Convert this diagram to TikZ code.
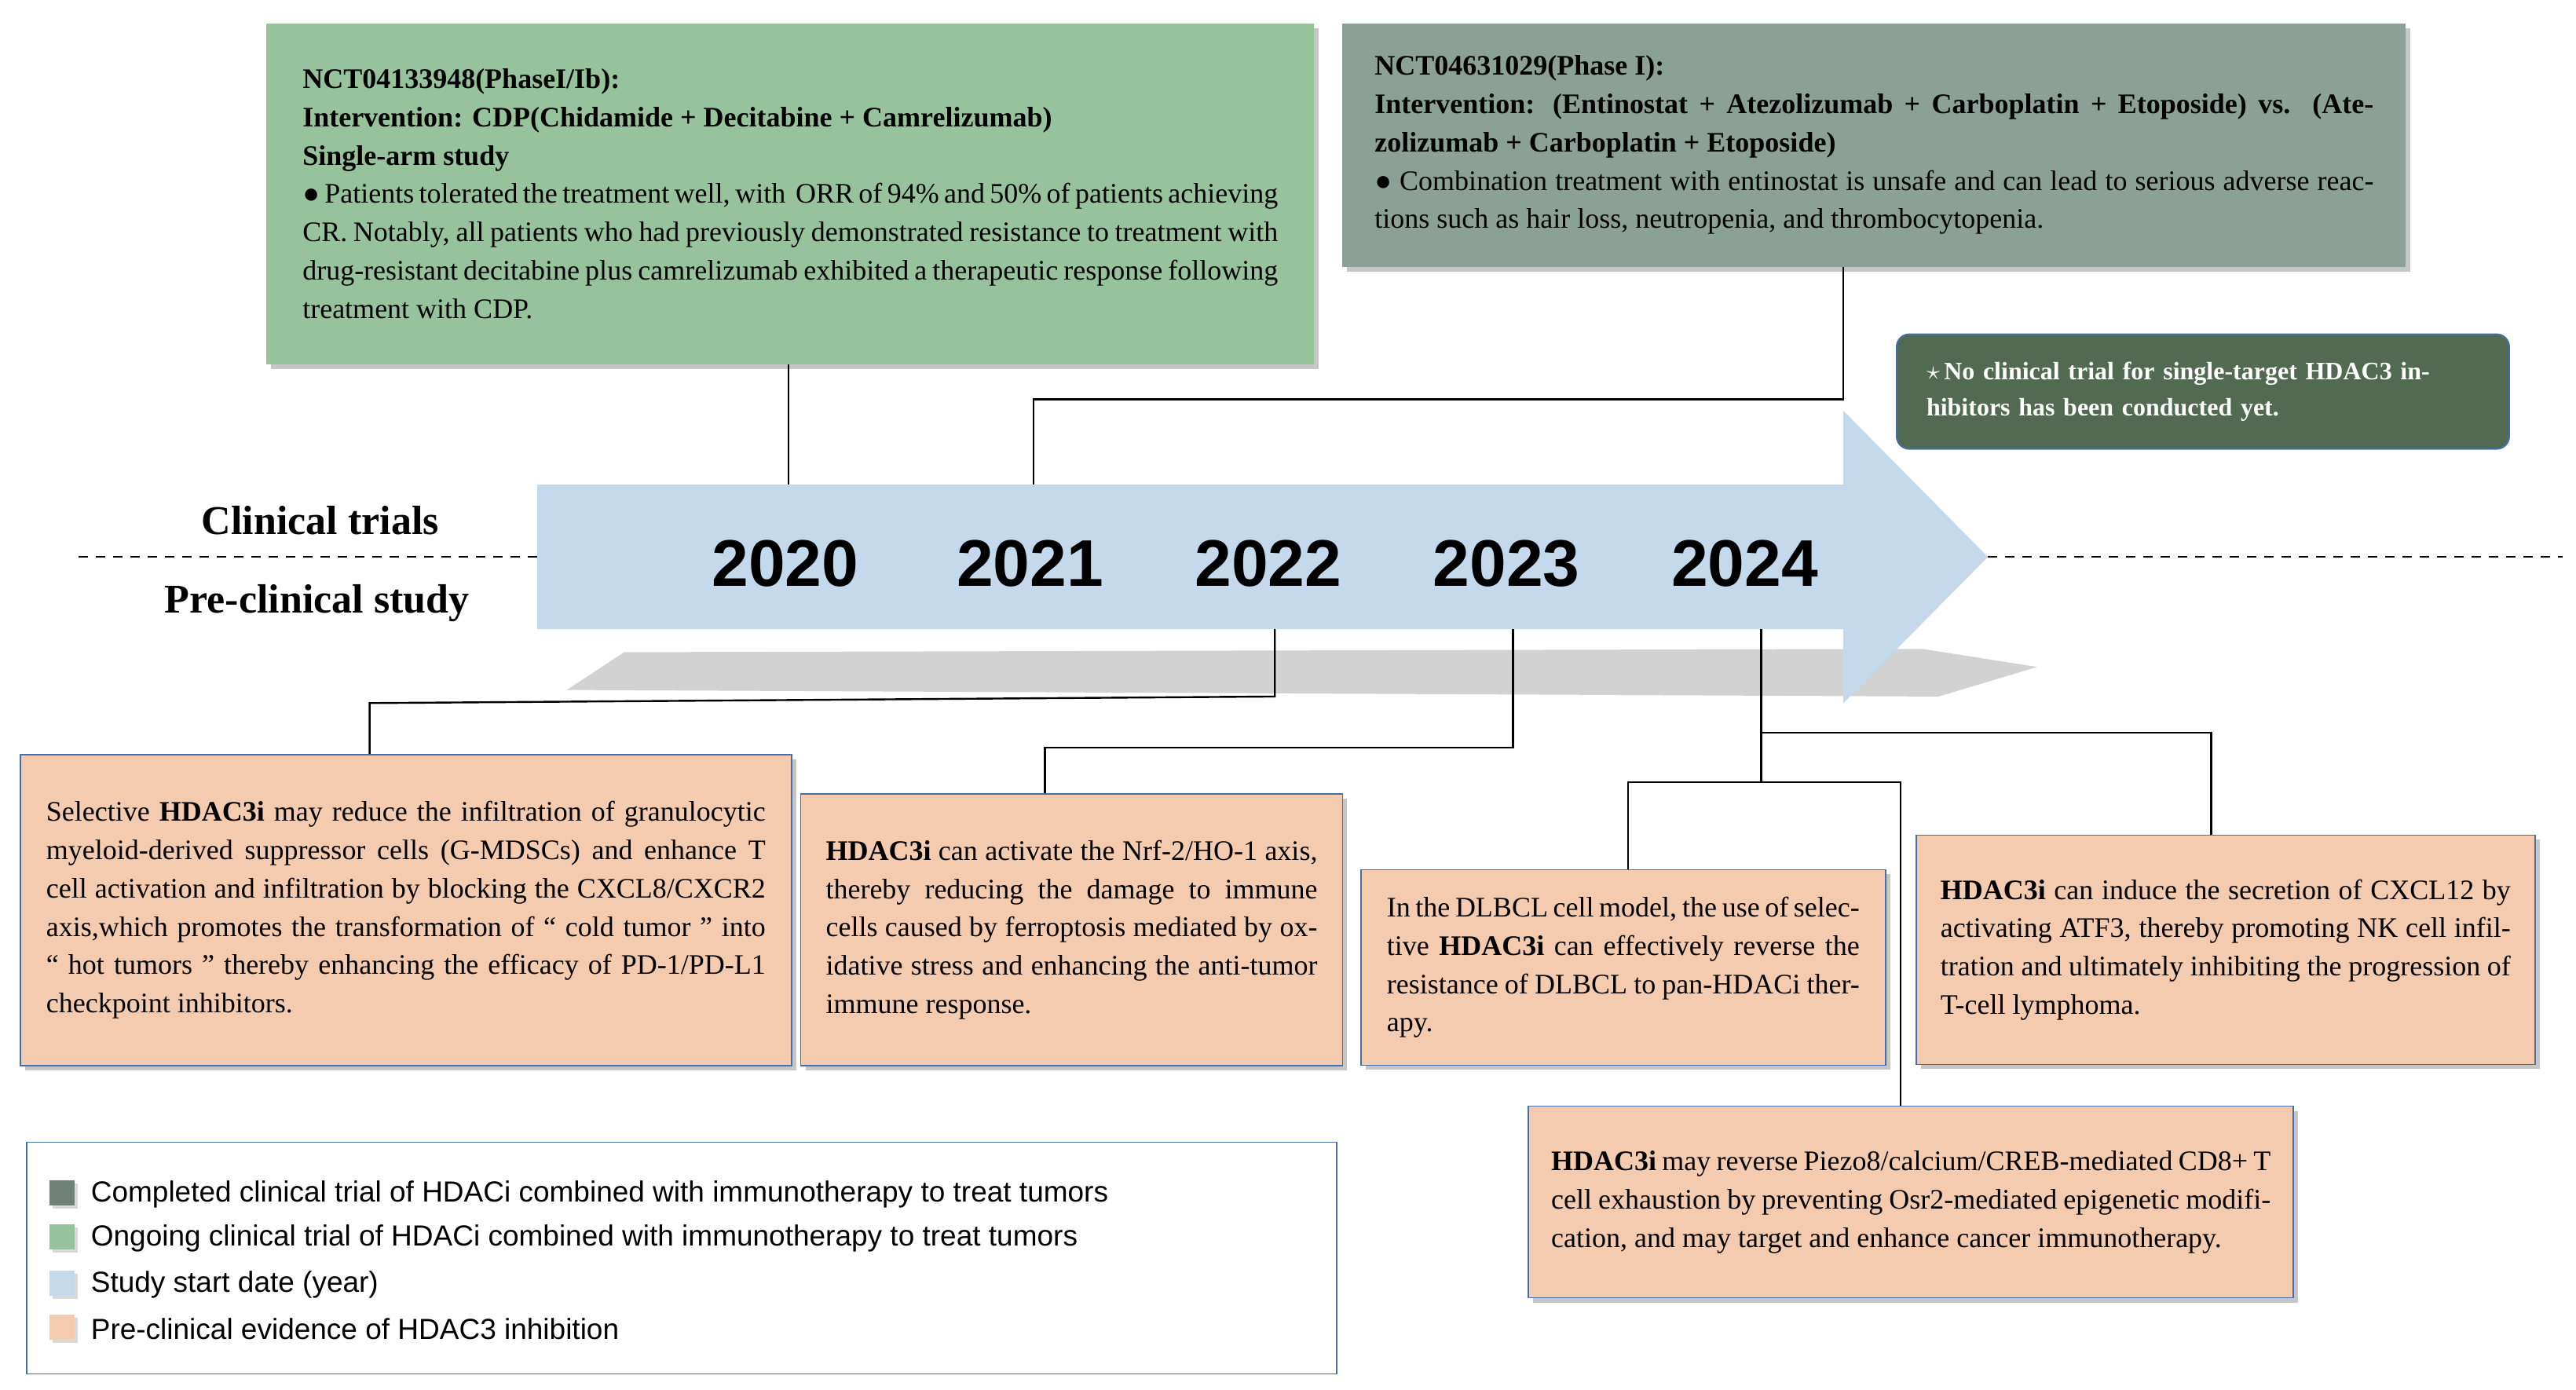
\documentclass[tikz,border=0pt]{standalone}
\usepackage{fontspec}
\setmainfont{Liberation Serif}
\newfontfamily\sansf{Liberation Sans}
\usetikzlibrary{shadows}
\definecolor{grn}{RGB}{151,195,156}
\definecolor{gry}{RGB}{139,160,150}
\definecolor{dkg}{RGB}{83,106,82}
\definecolor{arw}{RGB}{197,217,237}
\definecolor{pch}{RGB}{245,203,176}
\definecolor{bdr}{RGB}{70,110,170}
\definecolor{lgd}{RGB}{110,128,120}
\begin{document}
\begin{tikzpicture}[x=1.046pt,y=-1.046pt,
  txt/.style={font=\fontsize{18}{24.4}\selectfont,align=justify,inner ysep=0pt},
  box/.style={txt,anchor=north west,drop shadow={shadow xshift=3pt,shadow yshift=-3pt,opacity=.45}},
  pre/.style={box,fill=pch,draw=bdr,line width=0.8pt},
  con/.style={line width=1.2pt},
  yr/.style={font=\sansf\bfseries\fontsize{42}{42}\selectfont},
  sq/.style={minimum size=16pt,inner sep=0pt,drop shadow={shadow xshift=2pt,shadow yshift=-2pt,opacity=.3}},
  lg/.style={font=\sansf\fontsize{18.5}{22}\selectfont,anchor=west}]
\useasboundingbox (0,0) rectangle (1568,846);
% arrow shadow
\fill[gray!35] (345,420)--(380,397)--(1170,395)--(1240,406)--(1180,424)--cycle;
% arrow
\fill[arw] (327,295)--(1122,295)--(1122,250)--(1210,339)--(1122,428)--(1122,383)--(327,383)--cycle;
\coordinate (al) at (327,339);\coordinate (ar) at (1210,339);
\coordinate (d0) at (48,339);\coordinate (d1) at (1560,339);
\draw[dashed,line width=1pt,dash pattern=on 6pt off 5pt] (d0)--(al) (ar)--(d1);
\node[font=\bfseries\fontsize{26}{26}\selectfont] (ct) at (195,317) {Clinical trials};
\node[font=\bfseries\fontsize{26}{26}\selectfont] (pc) at (193,367) {Pre-clinical study};
\node[yr] (y0) at (478,343) {2020};
\node[yr] (y1) at (627,343) {2021};
\node[yr] (y2) at (772,343) {2022};
\node[yr] (y3) at (917,343) {2023};
\node[yr] (y4) at (1062,343) {2024};
% top boxes
\node[box,fill=grn,minimum width=667pt,minimum height=217pt,text width=621pt,inner xsep=23pt] (g) at (162,14) {\textbf{NCT04133948(PhaseI/Ib):}\\ \textbf{Intervention: CDP(Chidamide + Decitabine + Camrelizumab)}\\ \textbf{Single-arm study}\\ ● Patients tolerated the treatment well, with \ ORR of 94\% and 50\% of patients achieving CR. Notably, all patients who had previously demonstrated resistance to treatment with drug-resistant decitabine plus camrelizumab exhibited a therapeutic response following treatment with CDP.};
\node[box,fill=gry,minimum width=677pt,minimum height=155pt,text width=636pt,inner xsep=20.5pt] (t) at (817,14) {\textbf{NCT04631029(Phase I):}\\ \textbf{Intervention: (Entinostat + Atezolizumab + Carboplatin + Etoposide) vs. (Atezolizumab + Carboplatin + Etoposide)}\\ ● Combination treatment with entinostat is unsafe and can lead to serious adverse reactions such as hair loss, neutropenia, and thrombocytopenia.};
\node[txt,anchor=north west,fill=dkg,draw=bdr,line width=1pt,rounded corners=8pt,minimum width=390pt,minimum height=73pt,text width=352pt,inner xsep=19pt,text=white,align=left,font=\bfseries\fontsize{16}{23}\selectfont] (n) at (1154,203) {\hangindent=12pt$\star$\,No clinical trial for single-target HDAC3 inhibitors has been conducted yet.};
% connectors top
\coordinate (c0) at (480,295);
\draw[con] (g.south -| c0)--(c0);
\coordinate (c1) at (629,295);\coordinate (c1t) at (1122,243);
\draw[con] (t.south -| c1t)--(c1t)--(c1t -| c1)--(c1);
% pre-clinical boxes
\node[pre,minimum width=491pt,minimum height=198pt,text width=458pt,inner xsep=16.5pt] (b1) at (12,459) {Selective \textbf{HDAC3i} may reduce the infiltration of granulocytic myeloid-derived suppressor cells (G-MDSCs) and enhance T cell activation and infiltration by blocking the CXCL8/CXCR2 axis,which promotes the transformation of “ cold tumor ” into “ hot tumors ” thereby enhancing the efficacy of PD-1/PD-L1 checkpoint inhibitors.};
\node[pre,minimum width=345pt,minimum height=173pt,text width=313pt,inner xsep=16pt] (b2) at (487,483) {\textbf{HDAC3i} can activate the Nrf-2/HO-1 axis, thereby reducing the damage to immune cells caused by ferroptosis mediated by oxidative stress and enhancing the anti-tumor immune response.};
\node[pre,minimum width=334pt,minimum height=124.5pt,text width=301pt,inner xsep=16.5pt] (b3) at (828,529) {In the DLBCL cell model, the use of selective \textbf{HDAC3i} can effectively reverse the resistance of DLBCL to pan-HDACi therapy.};
\node[pre,minimum width=394pt,minimum height=146pt,text width=363pt,inner xsep=15.5pt] (b4) at (1166,508) {\textbf{HDAC3i} can induce the secretion of CXCL12 by activating ATF3, thereby promoting NK cell infiltration and ultimately inhibiting the progression of T-cell lymphoma.};
\node[pre,minimum width=487pt,minimum height=122pt,text width=458pt,inner xsep=14.5pt] (b5) at (930,673) {\textbf{HDAC3i} may reverse Piezo8/calcium/CREB-mediated CD8+ T cell exhaustion by preventing Osr2-mediated epigenetic modification, and may target and enhance cancer immunotherapy.};
% connectors bottom
\coordinate (p2) at (776,383);\coordinate (p3) at (921,383);\coordinate (p4) at (1072,383);
\draw[con] (p2)--(776,424)--(225,428)--(b1.north -| 225,0);
\draw[con] (p3)--(921,455)--(636,455)--(b2.north -| 636,0);
\draw[con] (p4)--(1072,476);
\draw[con] (1072,446)--(1346,446)--(b4.north -| 1346,0);
\draw[con] (b3.north -| 991,0)--(991,476)--(1157,476)--(b5.north -| 1157,0);
% legend
\node[draw=bdr,line width=0.8pt,anchor=north west,minimum width=834pt,minimum height=147.5pt] (lg) at (16,695) {};
\node[sq,fill=lgd] (s1) at (38,726) {};
\node[sq,fill=grn] (s2) at (38,753) {};
\node[sq,fill=arw] (s3) at (38,781) {};
\node[sq,fill=pch] (s4) at (38,808) {};
\node[lg] at (52,727) {Completed clinical trial of HDACi combined with immunotherapy to treat tumors};
\node[lg] at (52,754) {Ongoing clinical trial of HDACi combined with immunotherapy to treat tumors};
\node[lg] at (52,782) {Study start date (year)};
\node[lg] at (52,809) {Pre-clinical evidence of HDAC3 inhibition};
\end{tikzpicture}
\end{document}
